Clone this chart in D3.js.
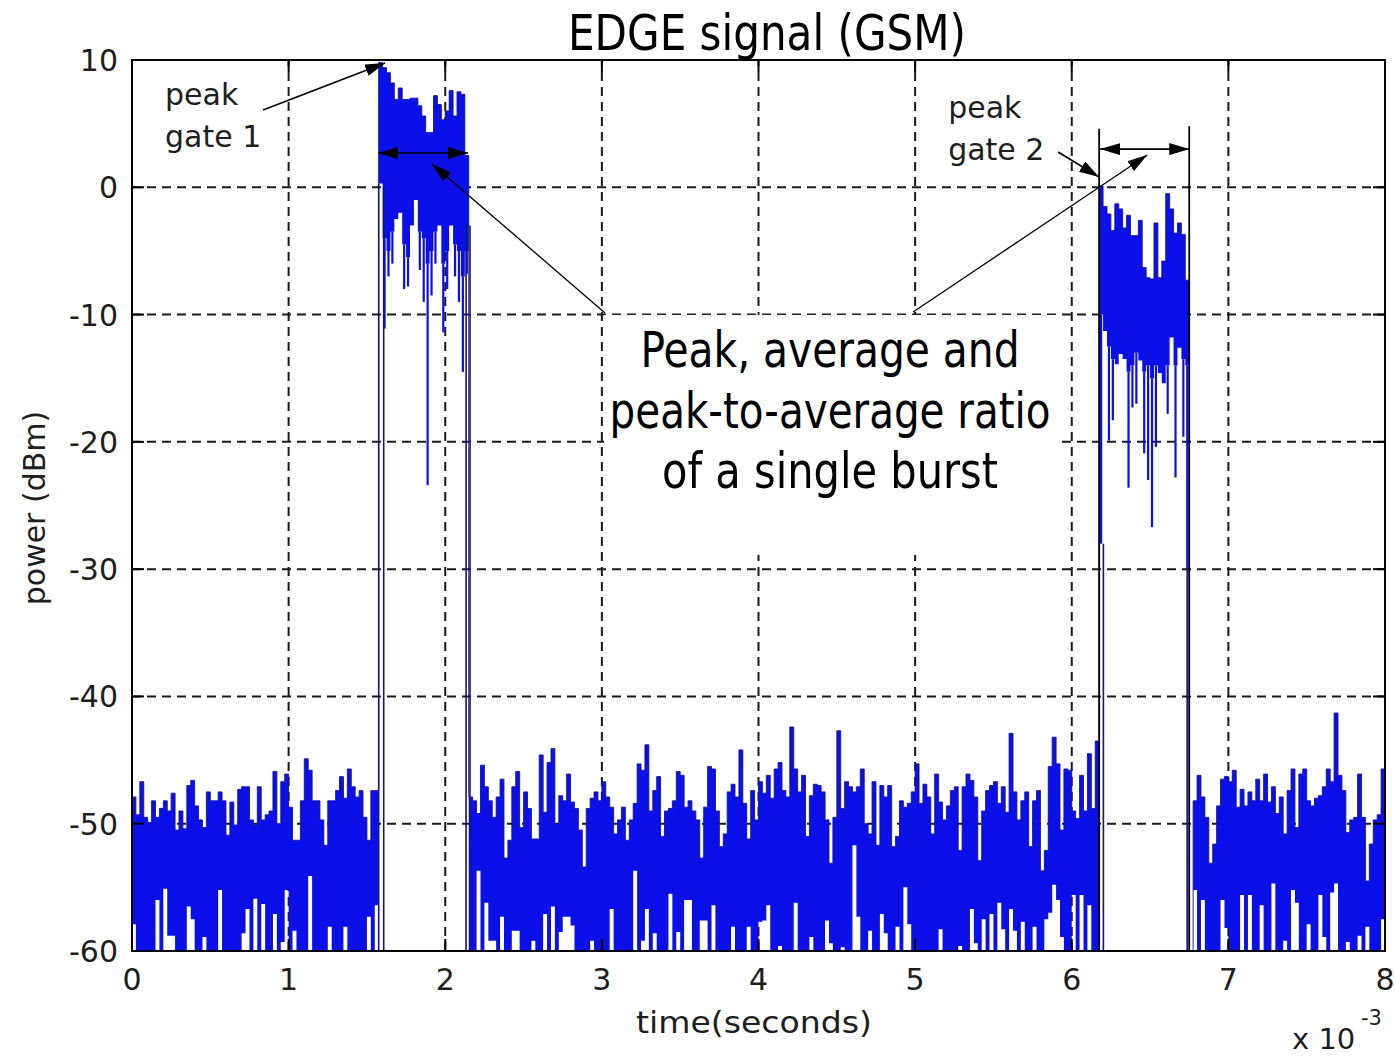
<!DOCTYPE html>
<html><head><meta charset="utf-8">
<script src="https://cdn.jsdelivr.net/npm/d3@7"></script>
<style>
html,body{margin:0;padding:0;background:#fff;}
svg{display:block;}
text{font-family:"DejaVu Sans",sans-serif;fill:#1e1e1e;}
.cond{font-family:"Liberation Sans Narrow","Arial Narrow","DejaVu Sans Condensed","Roboto Condensed",sans-serif;fill:#000;font-stretch:condensed;}
</style></head><body>
<svg id="chart" width="1395" height="1057"></svg>
<script>
// ---------------- data ----------------
const binWidthMs = 0.025;               // one value pair per 0.025 ms bin (x 10^-3 s)
const xTicks = [0,1,2,3,4,5,6,7,8];
const yTicks = [10,0,-10,-20,-30,-40,-50,-60];
const title = "EDGE signal (GSM)";
const xLabel = "time(seconds)";
const yLabel = "power (dBm)";
const boxLines = ["Peak, average and","peak-to-average ratio","of a single burst"];

// noise floor before burst 1 (bins 0-62): max / min power per bin, dBm
const upperNoise1 = [-47.9,-49.3,-46.7,-49.5,-49.9,-48.2,-49.5,-48.8,-48.2,-49.0,
 -47.6,-50.5,-49.0,-50.4,-47.0,-46.6,-48.6,-49.7,-50.3,-47.5,
 -48.2,-48.2,-47.5,-48.2,-50.9,-48.3,-50.1,-47.3,-47.1,-47.1,
 -49.7,-50.1,-47.1,-49.7,-49.3,-49.0,-45.9,-50.0,-46.7,-46.1,
 -48.7,-51.3,-51.3,-48.2,-44.9,-45.8,-48.2,-48.2,-49.7,-51.7,
 -48.2,-48.2,-47.4,-46.3,-48.0,-45.7,-47.1,-47.9,-47.4,-49.5,
 -51.3,-47.4,-47.4];
const lowerNoise1 = [-57.9,-61,-61,-61,-61,-61,-56.0,-61,-55.1,-58.8,
 -58.8,-61,-61,-61,-56.5,-57.5,-61,-61,-58.9,-61,
 -61,-61,-55.2,-61,-61,-61,-61,-61,-58.6,-56.7,
 -61,-55.9,-61,-56.3,-61,-61,-57.1,-61,-59.3,-55.2,
 -61,-58.4,-61,-61,-61,-54.1,-61,-61,-61,-61,
 -58.1,-61,-61,-61,-58.1,-61,-61,-61,-61,-61,
 -57.3,-61,-56.4];

// burst 1 (bins 63-85)
const upperBurst1 = [9.8,9.4,9.0,8.2,6.9,7.8,6.9,6.9,7.0,7.0,6.4,5.6,4.3,4.3,7.2,6.5,5.3,6.0,7.6,5.6,7.5,7.3,2.5];
const lowerBurst1 = [0.3,-4.0,-5.0,-3.5,-2.5,-2.0,-4.5,-5.5,-3.0,-1.0,-3.5,-4.0,-6.0,-5.0,-3.5,-3.0,-6.0,-5.0,-3.0,-4.5,-5.0,-7.0,-5.0];
const dipBurst1   = [0.3,-11.1,-7.0,-6.0,-2.5,-2.0,-8.0,-7.8,-3.0,-1.0,-6.5,-9.0,-23.4,-8.5,-6.0,-3.0,-11.4,-8.0,-3.0,-7.0,-9.0,-14.5,-6.8];

// noise floor between the bursts (bins 86-246)
const upperNoise2 = [-47.9,-48.2,-49.2,-45.4,-47.1,-48.2,-49.5,-47.9,-46.5,-52.7,
 -51.3,-47.1,-45.9,-50.3,-47.5,-48.8,-51.2,-51.2,-44.6,-49.1,
 -45.2,-44.1,-50.0,-47.8,-48.2,-46.1,-48.3,-48.8,-50.5,-53.4,
 -48.8,-48.0,-47.5,-48.2,-46.7,-47.9,-48.7,-50.8,-49.7,-48.7,
 -51.3,-49.7,-48.4,-45.3,-45.8,-43.8,-49.0,-47.4,-46.3,-51.0,
 -49.0,-48.8,-48.2,-45.9,-46.2,-48.7,-48.2,-49.0,-49.7,-52.7,
 -48.7,-45.5,-45.7,-49.0,-51.8,-50.8,-47.5,-46.9,-47.9,-44.2,
 -48.4,-51.2,-47.4,-49.7,-46.7,-47.6,-46.2,-48.0,-45.7,-45.2,
 -47.4,-47.9,-42.4,-45.7,-47.5,-46.2,-51.0,-47.8,-46.9,-47.0,
 -47.5,-49.7,-53.1,-49.5,-42.7,-48.8,-46.7,-47.1,-47.5,-47.1,
 -45.7,-50.0,-50.8,-46.7,-51.7,-47.0,-47.9,-47.0,-51.8,-51.0,
 -48.2,-48.7,-48.4,-47.5,-45.3,-48.4,-46.9,-47.9,-50.8,-46.1,
 -48.3,-49.7,-48.6,-47.4,-47.1,-52.1,-47.1,-46.1,-46.6,-47.9,
 -52.9,-49.0,-47.4,-47.0,-46.7,-48.4,-47.1,-49.1,-42.9,-47.5,
 -49.7,-48.2,-47.5,-51.8,-48.2,-47.4,-53.7,-52.1,-45.5,-43.2,
 -45.3,-50.5,-45.7,-45.8,-49.0,-49.6,-46.2,-49.0,-44.5,-48.8,
 -43.5];
const lowerNoise2 = [-61,-61,-53.7,-61,-56.2,-59.2,-59.2,-61,-57.3,-61,
 -61,-58.4,-58.4,-61,-61,-61,-59.2,-61,-61,-57.1,
 -61,-56.5,-61,-58.5,-57.3,-57.3,-58.0,-61,-61,-61,
 -61,-59.2,-61,-61,-61,-61,-56.7,-61,-61,-61,
 -61,-61,-53.7,-61,-59.2,-56.7,-61,-58.6,-61,-61,
 -61,-55.5,-61,-58.5,-61,-56.0,-56.0,-61,-61,-57.6,
 -57.6,-61,-56.4,-61,-61,-61,-61,-58.1,-61,-61,
 -61,-58.1,-61,-61,-57.7,-57.6,-56.4,-61,-61,-59.6,
 -61,-61,-61,-56.2,-61,-61,-61,-58.9,-61,-61,
 -61,-57.6,-59.4,-61,-61,-59.7,-61,-61,-51.7,-57.3,
 -61,-61,-58.4,-61,-61,-57.1,-58.6,-61,-61,-58.1,
 -61,-55.0,-57.9,-61,-61,-61,-61,-61,-61,-61,
 -58.3,-61,-61,-61,-61,-59.6,-61,-61,-56.7,-59.4,
 -61,-57.5,-61,-57.1,-61,-56.2,-58.3,-61,-56.7,-58.4,
 -61,-57.7,-61,-61,-58.1,-61,-61,-57.5,-57.0,-54.8,
 -56.0,-58.9,-61,-61,-55.6,-61,-55.6,-61,-56.4,-61,
 -61];

// burst 2 (bins 247-269)
const upperBurst2 = [0.1,-1.5,-2.1,-3.4,-1.3,-1.7,-3.2,-2.2,-3.8,-3.8,-2.6,-6.3,-7.1,-7.2,-2.8,-7.1,-5.8,-0.5,-1.7,-3.6,-2.8,-3.7,-7.3];
const lowerBurst2 = [-10.0,-11.3,-12.5,-13.5,-13.9,-13.1,-13.5,-14.5,-14.0,-13.0,-13.6,-14.5,-14.0,-15.0,-14.0,-14.6,-15.4,-14.0,-11.8,-14.0,-12.6,-13.5,-14.0];
const dipBurst2   = [-28.0,-11.3,-19.9,-18.3,-13.9,-13.1,-13.5,-23.6,-17.3,-17.0,-13.6,-20.9,-23.0,-26.7,-20.4,-14.6,-15.4,-17.8,-11.8,-22.8,-12.6,-19.6,-29.9];

// ramp-down bin (270): below the axis
const upperRamp = [-61];
const lowerRamp = [-61];

// noise floor after burst 2 (bins 271-319)
const upperNoise3 = [-48.2,-46.2,-47.9,-49.5,-53.1,-51.6,-48.6,-46.5,-46.3,-46.7,
 -45.8,-48.7,-47.3,-48.6,-47.5,-48.2,-46.5,-48.2,-46.1,-48.3,
 -47.1,-49.2,-47.9,-50.8,-47.4,-45.7,-50.3,-46.1,-45.7,-48.2,
 -48.6,-48.0,-47.8,-47.1,-45.7,-46.7,-41.3,-46.2,-47.4,-50.7,
 -49.7,-49.5,-46.1,-49.5,-54.5,-51.6,-49.7,-49.3,-45.7];
const lowerNoise3 = [-55.2,-61,-56.0,-61,-61,-61,-61,-56.0,-58.2,-61,
 -61,-61,-55.6,-61,-55.6,-61,-61,-56.4,-61,-61,
 -54.7,-61,-61,-59.2,-61,-55.2,-56.2,-61,-61,-57.9,
 -61,-61,-55.6,-58.9,-61,-55.4,-54.7,-61,-61,-59.3,
 -61,-61,-58.8,-61,-58.1,-61,-61,-61,-57.5];

// burst on/off transitions (time in ms, top of the vertical edge in dBm)
const edgeTimes = [1.575,1.607,2.133,2.158,6.202,6.737];
const edgeTops  = [0.3,0.0,-3.0,-3.0,-28.0,-29.9];
// gate 2 markers
const gateTimes = [6.175,6.750];
const gateTops  = [4.6,4.8];

// ---------------- chart ----------------
const W = 1395, H = 1057;
const x = d3.scaleLinear().domain([0,8]).range([132,1385]);
const y = d3.scaleLinear().domain([-60,10]).range([951,60]);
const svg = d3.select("#chart");
svg.append("rect").attr("width",W).attr("height",H).attr("fill","#fff");

const defs = svg.append("defs");
defs.append("clipPath").attr("id","plotclip").append("rect")
  .attr("x",x(0)).attr("y",y(10)).attr("width",x(8)-x(0)).attr("height",y(-60)-y(10));
defs.append("marker").attr("id","ah").attr("viewBox","0 0 20 12")
  .attr("refX",20).attr("refY",6).attr("markerWidth",20).attr("markerHeight",12)
  .attr("markerUnits","userSpaceOnUse").attr("orient","auto-start-reverse")
  .append("path").attr("d","M0,0 L20,6 L0,12 Z").attr("fill","#000");

// grid
const grid = svg.append("g");
xTicks.slice(1,-1).forEach(t => grid.append("line")
  .attr("x1",x(t)).attr("x2",x(t)).attr("y1",y(-60)).attr("y2",y(10))
  .attr("stroke","#1a1a1a").attr("stroke-width",2).attr("stroke-dasharray","9,6"));
yTicks.slice(1,-1).forEach(v => grid.append("line")
  .attr("x1",x(0)).attr("x2",x(8)).attr("y1",y(v)).attr("y2",y(v))
  .attr("stroke","#1a1a1a").attr("stroke-width",2).attr("stroke-dasharray","9,6"));

// signal
const upper = [].concat(upperNoise1,upperBurst1,upperNoise2,upperBurst2,upperRamp,upperNoise3);
const lower = [].concat(lowerNoise1,lowerBurst1,lowerNoise2,lowerBurst2,lowerRamp,lowerNoise3);
const signal = upper.map((u,i) => ({t:i*binWidthMs, hi:u, lo:lower[i]}));
signal.push({t:upper.length*binWidthMs, hi:upper[upper.length-1], lo:lower[lower.length-1]});

const plot = svg.append("g").attr("clip-path","url(#plotclip)");
const area = d3.area().x(d=>x(d.t)).y0(d=>y(d.lo)).y1(d=>y(d.hi)).curve(d3.curveStepAfter);
plot.append("path").datum(signal).attr("d",area).attr("fill","#0c10e8").attr("stroke","none");
const topLine = d3.line().x(d=>x(d.t)).y(d=>y(d.hi)).curve(d3.curveStepAfter);
plot.append("path").datum(signal).attr("d",topLine).attr("fill","none")
  .attr("stroke","#14149a").attr("stroke-width",0.9);

// thin downward spikes inside the bursts
const spikes = [];
dipBurst1.forEach((d,i)=>{ if(d<lowerBurst1[i]) spikes.push({t:(63+i+0.5)*binWidthMs, from:lowerBurst1[i], to:d}); });
dipBurst2.forEach((d,i)=>{ if(d<lowerBurst2[i]) spikes.push({t:(247+i+0.5)*binWidthMs, from:lowerBurst2[i], to:d}); });
plot.selectAll("line.spike").data(spikes).enter().append("line")
  .attr("x1",d=>x(d.t)).attr("x2",d=>x(d.t)).attr("y1",d=>y(d.from)).attr("y2",d=>y(d.to))
  .attr("stroke","#0c10e8").attr("stroke-width",2.2);

// vertical burst edges
plot.selectAll("line.edge").data(edgeTimes).enter().append("line")
  .attr("x1",d=>x(d)).attr("x2",d=>x(d)).attr("y1",(d,i)=>y(edgeTops[i])).attr("y2",y(-60))
  .attr("stroke","#15157a").attr("stroke-width",1.6);

// gate 2 lines
svg.selectAll("line.gate").data(gateTimes).enter().append("line")
  .attr("x1",d=>x(d)).attr("x2",d=>x(d)).attr("y1",(d,i)=>y(gateTops[i])).attr("y2",y(-60))
  .attr("stroke","#000").attr("stroke-width",1.8);

// axes box and inward ticks
svg.append("rect").attr("x",x(0)).attr("y",y(10)).attr("width",x(8)-x(0)).attr("height",y(-60)-y(10))
  .attr("fill","none").attr("stroke","#000").attr("stroke-width",2);
const tk = svg.append("g").attr("stroke","#000").attr("stroke-width",2);
xTicks.forEach(t => {
  tk.append("line").attr("x1",x(t)).attr("x2",x(t)).attr("y1",y(-60)).attr("y2",y(-60)-12);
  tk.append("line").attr("x1",x(t)).attr("x2",x(t)).attr("y1",y(10)).attr("y2",y(10)+12);
});
yTicks.forEach(v => {
  tk.append("line").attr("x1",x(0)).attr("x2",x(0)+12).attr("y1",y(v)).attr("y2",y(v));
  tk.append("line").attr("x1",x(8)).attr("x2",x(8)-12).attr("y1",y(v)).attr("y2",y(v));
});

// tick labels
svg.selectAll("text.xt").data(xTicks).enter().append("text")
  .attr("x",d=>x(d)).attr("y",990).attr("text-anchor","middle").attr("font-size",30).text(d=>d);
svg.selectAll("text.yt").data(yTicks).enter().append("text")
  .attr("x",118).attr("y",d=>y(d)+11).attr("text-anchor","end").attr("font-size",30).text(d=>d);

// axis labels
svg.append("text").attr("x",754).attr("y",1033).attr("text-anchor","middle").attr("font-size",30)
  .attr("textLength",236).attr("lengthAdjust","spacingAndGlyphs").text(xLabel);
svg.append("text").attr("transform","translate(45,508) rotate(-90)").attr("text-anchor","middle")
  .attr("font-size",30).text(yLabel);
svg.append("text").attr("x",1292).attr("y",1049).attr("font-size",29).text("x 10");
svg.append("text").attr("x",1361).attr("y",1025).attr("font-size",21).text("-3");

// title
svg.append("text").attr("class","cond").attr("x",767).attr("y",50).attr("text-anchor","middle")
  .attr("font-size",50).attr("textLength",398).attr("lengthAdjust","spacingAndGlyphs").text(title);

// ---- annotations ----
const ann = svg.append("g");
function arrow(t1,v1,t2,v2,both,w){
  const l = ann.append("line").attr("x1",x(t1)).attr("y1",y(v1)).attr("x2",x(t2)).attr("y2",y(v2))
    .attr("stroke","#000").attr("stroke-width",w||1.6).attr("marker-end","url(#ah)");
  if(both) l.attr("marker-start","url(#ah)");
}
// peak gate 1
ann.append("text").attr("x",x(0.211)).attr("y",y(6.47)).attr("font-size",30).text("peak");
ann.append("text").attr("x",x(0.211)).attr("y",y(3.17)).attr("font-size",30).text("gate 1");
arrow(0.837,6.07,1.616,9.76,false);
arrow(1.571,2.69,2.146,2.69,true,1.6);
// peak gate 2
ann.append("text").attr("x",x(5.211)).attr("y",y(5.44)).attr("font-size",30).text("peak");
ann.append("text").attr("x",x(5.211)).attr("y",y(2.14)).attr("font-size",30).text("gate 2");
arrow(5.913,2.77,6.175,0.81,false);
arrow(6.181,3.0,6.750,3.0,true,1.6);
// callout box
const bx0 = 3.014, bx1 = 5.907, bv0 = -10.03, bv1 = -28.88;
ann.append("rect").attr("x",x(bx0)).attr("y",y(bv0)).attr("width",x(bx1)-x(bx0)).attr("height",y(bv1)-y(bv0))
  .attr("fill","#fff");
arrow(3.020,-9.87,1.916,1.83,false,1.3);
arrow(4.987,-9.80,6.482,2.54,false,1.3);
const boxBase = [-14.12,-18.9,-23.6];
const boxWidths = [379,441,336];
boxLines.forEach((s,i)=> ann.append("text").attr("class","cond").attr("x",x(4.457)).attr("y",y(boxBase[i]))
  .attr("text-anchor","middle").attr("font-size",50).attr("textLength",boxWidths[i])
  .attr("lengthAdjust","spacingAndGlyphs").text(s));
</script>
</body></html>
